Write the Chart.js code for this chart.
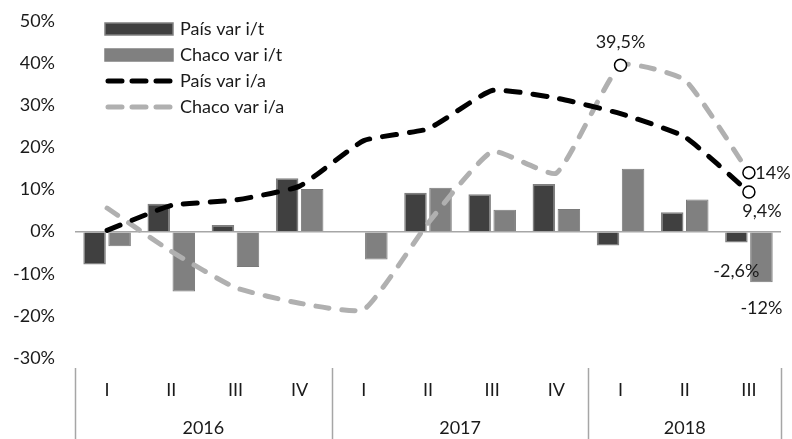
<!DOCTYPE html>
<html>
<head>
<meta charset="utf-8">
<script src="https://cdn.jsdelivr.net/npm/chart.js@4"></script>
<style>
  html, body { margin: 0; padding: 0; background: #fff; }
  #wrap { width: 792px; height: 439px; }
</style>
</head>
<body>
<div id="wrap"><canvas id="chart"></canvas></div>
<script>
const quarters = ['I', 'II', 'III', 'IV', 'I', 'II', 'III', 'IV', 'I', 'II', 'III'];
const years = ['2016', '2017', '2018'];
const yearSpans = [4, 4, 3];

const paisVarIT = [-7.8, 6.6, 1.6, 12.7, -0.2, 9.2, 8.9, 11.3, -3.3, 4.6, -2.6];
const chacoVarIT = [-3.5, -14.2, -8.4, 10.1, -6.6, 10.4, 5.2, 5.4, 14.9, 7.6, -12];
const paisVarIA = [0.3, 6.2, 7.5, 10.8, 21.6, 24.4, 33.5, 31.7, 28, 22.5, 9.4];
const chacoVarIA = [5.6, -4.7, -13.3, -17, -18.5, 2, 19, 13.9, 39.5, 36, 14];

// [dataset, index, where]
const labelled = [
    [3, 8, 'above'],
    [3, 10, 'right'],
    [2, 10, 'belowRight'],
    [0, 10, 'below'],
    [1, 10, 'below']
];

const FONT = 'Lato, "DejaVu Sans", sans-serif';
const SIZE = 18;
const TEXT = '#1a1a1a';

function fmt(v) {
    return String(v).replace('.', ',') + '%';
}

function markers(values, idx) {
    return values.map((v, i) => idx.includes(i) ? 6 : 0);
}

const data = {
    labels: quarters,
    datasets: [
        {
            type: 'bar',
            label: 'País var i/t',
            data: paisVarIT,
            backgroundColor: '#404040',
            borderColor: '#808080',
            borderWidth: 1.5,
            categoryPercentage: 0.78,
            barPercentage: 0.9,
            order: 2
        },
        {
            type: 'bar',
            label: 'Chaco var i/t',
            data: chacoVarIT,
            backgroundColor: '#808080',
            borderColor: '#7a7a7a',
            borderWidth: 1,
            categoryPercentage: 0.78,
            barPercentage: 0.9,
            order: 2
        },
        {
            type: 'line',
            label: 'País var i/a',
            data: paisVarIA,
            borderColor: '#000',
            borderWidth: 5,
            borderDash: [14, 13],
            borderCapStyle: 'round',
            tension: 0.15,
            pointRadius: markers(paisVarIA, [10]),
            pointBorderColor: '#000',
            pointBackgroundColor: '#fff',
            pointBorderWidth: 1.5,
            order: 0
        },
        {
            type: 'line',
            label: 'Chaco var i/a',
            data: chacoVarIA,
            borderColor: '#b0b0b0',
            borderWidth: 5,
            borderDash: [13, 13],
            borderCapStyle: 'round',
            tension: 0.15,
            pointRadius: markers(chacoVarIA, [8, 10]),
            pointBorderColor: '#000',
            pointBackgroundColor: '#fff',
            pointBorderWidth: 1.5,
            order: 1
        }
    ]
};

const extras = {
    id: 'extras',
    afterDraw(chart) {
        const ctx = chart.ctx;
        const x = chart.scales.x;
        const area = chart.chartArea;
        ctx.save();

        // quarter + year axis
        ctx.font = SIZE + 'px ' + FONT;
        ctx.fillStyle = TEXT;
        ctx.textAlign = 'center';
        ctx.textBaseline = 'middle';
        quarters.forEach((q, i) => ctx.fillText(q, x.getPixelForValue(i), 390));

        ctx.strokeStyle = '#a6a6a6';
        ctx.lineWidth = 1.5;
        let start = 0;
        const bounds = [start];
        yearSpans.forEach(n => { start += n; bounds.push(start); });
        bounds.forEach(b => {
            const px = Math.round(x.getPixelForValue(b - 0.5)) + 0.5;
            ctx.beginPath();
            ctx.moveTo(px, area.bottom + 10);
            ctx.lineTo(px, chart.height);
            ctx.stroke();
        });
        years.forEach((y, i) => {
            const a = x.getPixelForValue(bounds[i] - 0.5);
            const b = x.getPixelForValue(bounds[i + 1] - 0.5);
            ctx.fillText(y, (a + b) / 2, 428);
        });

        // value labels
        labelled.forEach(([ds, i, where]) => {
            const el = chart.getDatasetMeta(ds).data[i];
            const v = chart.data.datasets[ds].data[i];
            let lx = el.x, ly = el.y;
            if (where === 'above') { ly -= 23; }
            if (where === 'right') { lx += 24; ly += 1; }
            if (where === 'belowRight') { lx += 13; ly += 19; }
            if (where === 'below') { ly += ds === 0 ? 29 : 26; }
            ctx.fillText(fmt(v), lx, ly);
        });

        // legend
        const rows = [29, 55, 81, 107];
        chart.data.datasets.forEach((d, i) => {
            const y = rows[i];
            if (d.type === 'bar') {
                ctx.fillStyle = d.backgroundColor;
                ctx.fillRect(105, y - 6, 68, 12);
                ctx.strokeStyle = '#808080';
                ctx.lineWidth = 1.5;
                ctx.strokeRect(105, y - 6, 68, 12);
            } else {
                ctx.strokeStyle = d.borderColor;
                ctx.lineWidth = 5;
                ctx.lineCap = 'round';
                ctx.setLineDash([14, 10]);
                ctx.beginPath();
                ctx.moveTo(108, y);
                ctx.lineTo(170, y);
                ctx.stroke();
                ctx.setLineDash([]);
            }
            ctx.fillStyle = TEXT;
            ctx.textAlign = 'left';
            ctx.fillText(d.label, 180, y);
        });
        ctx.restore();
    }
};

const config = {
    data: data,
    options: {
        responsive: true,
        maintainAspectRatio: false,
        animation: false,
        layout: {
            padding: { top: 21, right: 11, bottom: 81, left: 0 }
        },
        plugins: {
            legend: { display: false },
            tooltip: { enabled: false }
        },
        scales: {
            x: {
                display: false,
                offset: true
            },
            y: {
                min: -30,
                max: 50,
                afterFit(scale) {
                    scale.width = 75;
                    scale.paddingTop = 0;
                    scale.paddingBottom = 0;
                },
                border: { display: false },
                grid: {
                    drawTicks: false,
                    lineWidth: 1.5,
                    color: c => c.tick.value === 0 ? '#a6a6a6' : 'transparent'
                },
                ticks: {
                    stepSize: 10,
                    padding: 20,
                    color: TEXT,
                    font: { family: FONT, size: SIZE },
                    callback: v => v + '%'
                }
            }
        }
    },
    plugins: [extras]
};

const chart = new Chart(document.getElementById('chart'), config);
</script>
</body>
</html>
